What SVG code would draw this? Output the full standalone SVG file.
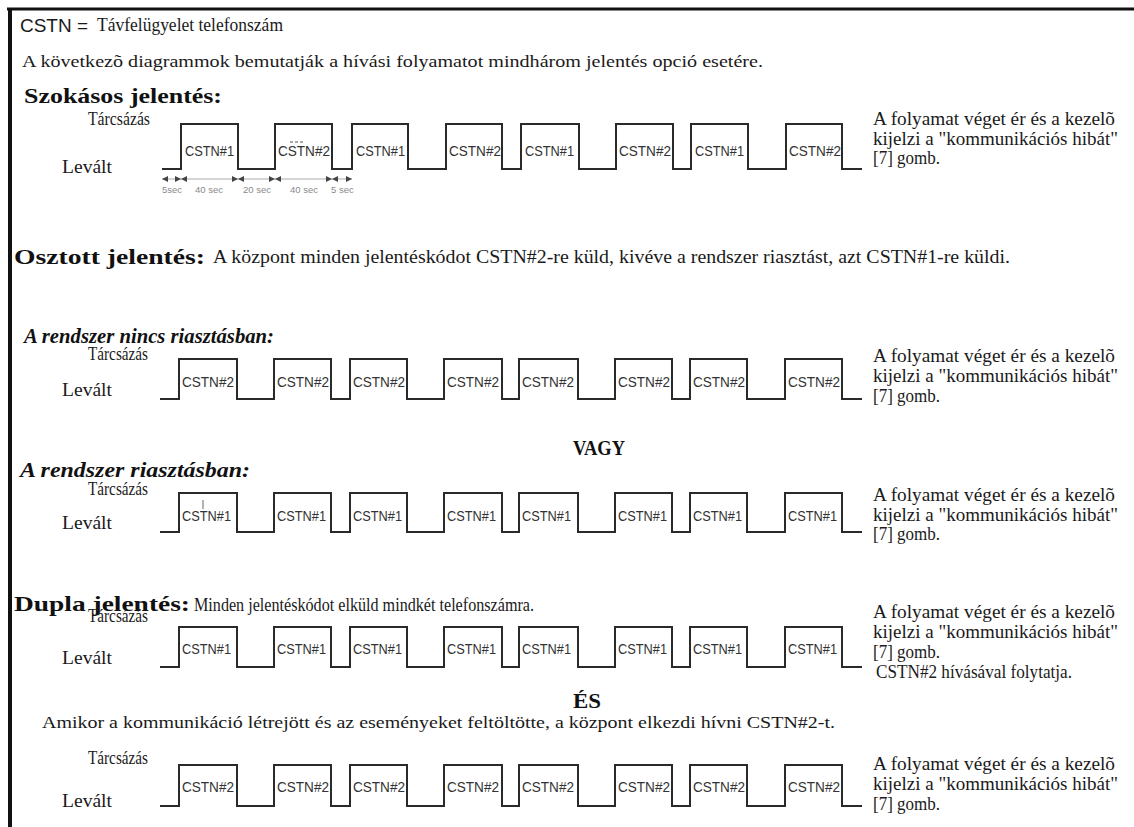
<svg xmlns="http://www.w3.org/2000/svg" width="1134" height="827" viewBox="0 0 1134 827">
<style>
.t{font-family:"Liberation Serif","Times New Roman",serif;fill:#1a1a1a}
.s{font-family:"Liberation Sans",Arial,sans-serif;fill:#1a1a1a}
.lbl{font-family:"Liberation Sans",Arial,sans-serif;font-size:14px;fill:#333}
.wave{fill:none;stroke:#2a2a2a;stroke-width:2}
.side{font-family:"Liberation Serif","Times New Roman",serif;font-size:19px;fill:#1a1a1a}
.h{font-family:"Liberation Serif","Times New Roman",serif;font-weight:bold;font-size:22px;fill:#111}
.hi{font-family:"Liberation Serif","Times New Roman",serif;font-weight:bold;font-style:italic;font-size:22px;fill:#111}
.tm{font-family:"Liberation Sans",Arial,sans-serif;font-size:9.5px;fill:#8a8a8a}
.lab{font-family:"Liberation Serif","Times New Roman",serif;font-size:18px;fill:#1a1a1a}
</style>
<rect width="1134" height="827" fill="#fff"/>
<g id="border">
<line x1="7" y1="9" x2="1134" y2="9" stroke="#111" stroke-width="3"/>
<line x1="10" y1="8" x2="10" y2="827" stroke="#111" stroke-width="4"/>
</g>
<g id="header">
<text class="s" x="20" y="32" font-size="18" textLength="68" lengthAdjust="spacingAndGlyphs">CSTN =</text>
<text class="t" x="97" y="31" font-size="18" textLength="186" lengthAdjust="spacingAndGlyphs">Távfelügyelet telefonszám</text>
<text class="t" x="22" y="67" font-size="17" textLength="741" lengthAdjust="spacingAndGlyphs">A következõ diagrammok bemutatják a hívási folyamatot mindhárom jelentés opció esetére.</text>
<text class="h" x="24" y="103" textLength="198" lengthAdjust="spacingAndGlyphs">Szokásos jelentés:</text>
<text class="h" x="14" y="264" font-size="24" textLength="191" lengthAdjust="spacingAndGlyphs">Osztott jelentés:</text>
<text class="t" x="213" y="263" font-size="18" textLength="797" lengthAdjust="spacingAndGlyphs">A központ minden jelentéskódot CSTN#2-re küld, kivéve a rendszer riasztást, azt CSTN#1-re küldi.</text>
<text class="hi" x="24" y="343" textLength="250" lengthAdjust="spacingAndGlyphs">A rendszer nincs riasztásban:</text>
<text class="h" x="573" y="455" font-size="20" textLength="52" lengthAdjust="spacingAndGlyphs">VAGY</text>
<text class="hi" x="20" y="477" textLength="230" lengthAdjust="spacingAndGlyphs">A rendszer riasztásban:</text>
<text class="h" x="14" y="611" textLength="176" lengthAdjust="spacingAndGlyphs">Dupla jelentés:</text>
<text class="t" x="194" y="611" font-size="18" textLength="340" lengthAdjust="spacingAndGlyphs">Minden jelentéskódot elküld mindkét telefonszámra.</text>
<text class="h" x="573" y="708" font-size="21" textLength="28" lengthAdjust="spacingAndGlyphs">ÉS</text>
<text class="t" x="42" y="728" font-size="17" textLength="793" lengthAdjust="spacingAndGlyphs">Amikor a kommunikáció létrejött és az eseményeket feltöltötte, a központ elkezdi hívni CSTN#2-t.</text>
</g>
<g id="row1">
<text class="lab" x="88" y="125" textLength="62" lengthAdjust="spacingAndGlyphs">Tárcsázás</text>
<text class="lab" x="62" y="173" textLength="50" lengthAdjust="spacingAndGlyphs">Levált</text>
<path class="wave" d="M162 169H181V124H238V169H275V124H332V169H352V124H408V169H446V124H502V169H521V124H579V169H616V124H673V169H691V124H748V169H786V124H842V169H862"/>
<g class="lbl">
<text x="185" y="156" textLength="49" lengthAdjust="spacingAndGlyphs">CSTN#1</text>
<text x="278" y="156" textLength="52" lengthAdjust="spacingAndGlyphs">CSTN#2</text>
<text x="356" y="156" textLength="49" lengthAdjust="spacingAndGlyphs">CSTN#1</text>
<text x="449" y="156" textLength="52" lengthAdjust="spacingAndGlyphs">CSTN#2</text>
<text x="525" y="156" textLength="49" lengthAdjust="spacingAndGlyphs">CSTN#1</text>
<text x="619" y="156" textLength="52" lengthAdjust="spacingAndGlyphs">CSTN#2</text>
<text x="695" y="156" textLength="49" lengthAdjust="spacingAndGlyphs">CSTN#1</text>
<text x="789" y="156" textLength="52" lengthAdjust="spacingAndGlyphs">CSTN#2</text>
</g>
<line x1="290" y1="142" x2="305" y2="142" stroke="#555" stroke-width="1" stroke-dasharray="3,2"/>
<g id="timing">
<line x1="162" y1="179" x2="352" y2="179" stroke="#aaa" stroke-width="1"/>
<g fill="#444">
<polygon points="162,179 168,176 168,182"/>
<polygon points="181,179 175,176 175,182"/><polygon points="181,179 187,176 187,182"/>
<polygon points="238,179 232,176 232,182"/><polygon points="238,179 244,176 244,182"/>
<polygon points="275,179 269,176 269,182"/><polygon points="275,179 281,176 281,182"/>
<polygon points="332,179 326,176 326,182"/><polygon points="332,179 338,176 338,182"/>
<polygon points="352,179 346,176 346,182"/>
</g>
<text class="tm" x="162" y="193">5sec</text>
<text class="tm" x="195" y="193">40 sec</text>
<text class="tm" x="243" y="193">20 sec</text>
<text class="tm" x="290" y="193">40 sec</text>
<text class="tm" x="331" y="193">5 sec</text>
</g>
<g class="side">
<text x="873" y="125" textLength="242" lengthAdjust="spacingAndGlyphs">A folyamat véget ér és a kezelõ</text>
<text x="873" y="145" textLength="245" lengthAdjust="spacingAndGlyphs">kijelzi a "kommunikációs hibát"</text>
<text x="873" y="164" textLength="67" lengthAdjust="spacingAndGlyphs">[7] gomb.</text>
</g>
</g>
<g id="row2">
<text class="lab" x="88" y="360" textLength="60" lengthAdjust="spacingAndGlyphs">Tárcsázás</text>
<text class="lab" x="62" y="396" textLength="50" lengthAdjust="spacingAndGlyphs">Levált</text>
<path class="wave" d="M160 399H179V359H237V399H274V359H331V399H350V359H407V399H444V359H502V399H519V359H578V399H615V359H672V399H690V359H747V399H785V359H842V399H862"/>
<g class="lbl">
<text x="182" y="387" textLength="52" lengthAdjust="spacingAndGlyphs">CSTN#2</text>
<text x="277" y="387" textLength="52" lengthAdjust="spacingAndGlyphs">CSTN#2</text>
<text x="353" y="387" textLength="52" lengthAdjust="spacingAndGlyphs">CSTN#2</text>
<text x="447" y="387" textLength="52" lengthAdjust="spacingAndGlyphs">CSTN#2</text>
<text x="522" y="387" textLength="52" lengthAdjust="spacingAndGlyphs">CSTN#2</text>
<text x="618" y="387" textLength="52" lengthAdjust="spacingAndGlyphs">CSTN#2</text>
<text x="693" y="387" textLength="52" lengthAdjust="spacingAndGlyphs">CSTN#2</text>
<text x="788" y="387" textLength="52" lengthAdjust="spacingAndGlyphs">CSTN#2</text>
</g>
<g class="side">
<text x="873" y="362" textLength="242" lengthAdjust="spacingAndGlyphs">A folyamat véget ér és a kezelõ</text>
<text x="873" y="382" textLength="245" lengthAdjust="spacingAndGlyphs">kijelzi a "kommunikációs hibát"</text>
<text x="873" y="402" textLength="67" lengthAdjust="spacingAndGlyphs">[7] gomb.</text>
</g>
</g>
<g id="row3">
<text class="lab" x="88" y="495" textLength="60" lengthAdjust="spacingAndGlyphs">Tárcsázás</text>
<text class="lab" x="62" y="529" textLength="50" lengthAdjust="spacingAndGlyphs">Levált</text>
<path class="wave" d="M160 532H179V493H237V532H274V493H331V532H350V493H407V532H444V493H502V532H519V493H578V532H615V493H672V532H690V493H747V532H785V493H842V532H862"/>
<line x1="203" y1="500" x2="203" y2="509" stroke="#666" stroke-width="1"/>
<g class="lbl">
<text x="182" y="521" textLength="49" lengthAdjust="spacingAndGlyphs">CSTN#1</text>
<text x="277" y="521" textLength="49" lengthAdjust="spacingAndGlyphs">CSTN#1</text>
<text x="353" y="521" textLength="49" lengthAdjust="spacingAndGlyphs">CSTN#1</text>
<text x="447" y="521" textLength="49" lengthAdjust="spacingAndGlyphs">CSTN#1</text>
<text x="522" y="521" textLength="49" lengthAdjust="spacingAndGlyphs">CSTN#1</text>
<text x="618" y="521" textLength="49" lengthAdjust="spacingAndGlyphs">CSTN#1</text>
<text x="693" y="521" textLength="49" lengthAdjust="spacingAndGlyphs">CSTN#1</text>
<text x="788" y="521" textLength="49" lengthAdjust="spacingAndGlyphs">CSTN#1</text>
</g>
<g class="side">
<text x="873" y="501" textLength="242" lengthAdjust="spacingAndGlyphs">A folyamat véget ér és a kezelõ</text>
<text x="873" y="521" textLength="245" lengthAdjust="spacingAndGlyphs">kijelzi a "kommunikációs hibát"</text>
<text x="873" y="540" textLength="67" lengthAdjust="spacingAndGlyphs">[7] gomb.</text>
</g>
</g>
<g id="row4">
<text class="lab" x="88" y="622" textLength="60" lengthAdjust="spacingAndGlyphs">Tárcsázás</text>
<text class="lab" x="62" y="664" textLength="50" lengthAdjust="spacingAndGlyphs">Levált</text>
<path class="wave" d="M160 667H179V627H237V667H274V627H331V667H350V627H407V667H444V627H502V667H519V627H578V667H615V627H672V667H690V627H747V667H785V627H842V667H862"/>
<g class="lbl">
<text x="182" y="654" textLength="49" lengthAdjust="spacingAndGlyphs">CSTN#1</text>
<text x="277" y="654" textLength="49" lengthAdjust="spacingAndGlyphs">CSTN#1</text>
<text x="353" y="654" textLength="49" lengthAdjust="spacingAndGlyphs">CSTN#1</text>
<text x="447" y="654" textLength="49" lengthAdjust="spacingAndGlyphs">CSTN#1</text>
<text x="522" y="654" textLength="49" lengthAdjust="spacingAndGlyphs">CSTN#1</text>
<text x="618" y="654" textLength="49" lengthAdjust="spacingAndGlyphs">CSTN#1</text>
<text x="693" y="654" textLength="49" lengthAdjust="spacingAndGlyphs">CSTN#1</text>
<text x="788" y="654" textLength="49" lengthAdjust="spacingAndGlyphs">CSTN#1</text>
</g>
<g class="side">
<text x="873" y="618" textLength="242" lengthAdjust="spacingAndGlyphs">A folyamat véget ér és a kezelõ</text>
<text x="873" y="638" textLength="245" lengthAdjust="spacingAndGlyphs">kijelzi a "kommunikációs hibát"</text>
<text x="873" y="658" textLength="67" lengthAdjust="spacingAndGlyphs">[7] gomb.</text>
<text x="876" y="678" textLength="196" lengthAdjust="spacingAndGlyphs">CSTN#2 hívásával folytatja.</text>
</g>
</g>
<g id="row5">
<text class="lab" x="88" y="764" textLength="60" lengthAdjust="spacingAndGlyphs">Tárcsázás</text>
<text class="lab" x="62" y="807" textLength="50" lengthAdjust="spacingAndGlyphs">Levált</text>
<path class="wave" d="M160 806H179V765H237V806H274V765H331V806H350V765H407V806H444V765H502V806H519V765H578V806H615V765H672V806H690V765H747V806H785V765H842V806H862"/>
<g class="lbl">
<text x="182" y="792" textLength="52" lengthAdjust="spacingAndGlyphs">CSTN#2</text>
<text x="277" y="792" textLength="52" lengthAdjust="spacingAndGlyphs">CSTN#2</text>
<text x="353" y="792" textLength="52" lengthAdjust="spacingAndGlyphs">CSTN#2</text>
<text x="447" y="792" textLength="52" lengthAdjust="spacingAndGlyphs">CSTN#2</text>
<text x="522" y="792" textLength="52" lengthAdjust="spacingAndGlyphs">CSTN#2</text>
<text x="618" y="792" textLength="52" lengthAdjust="spacingAndGlyphs">CSTN#2</text>
<text x="693" y="792" textLength="52" lengthAdjust="spacingAndGlyphs">CSTN#2</text>
<text x="788" y="792" textLength="52" lengthAdjust="spacingAndGlyphs">CSTN#2</text>
</g>
<g class="side">
<text x="873" y="770" textLength="242" lengthAdjust="spacingAndGlyphs">A folyamat véget ér és a kezelõ</text>
<text x="873" y="790" textLength="245" lengthAdjust="spacingAndGlyphs">kijelzi a "kommunikációs hibát"</text>
<text x="873" y="810" textLength="67" lengthAdjust="spacingAndGlyphs">[7] gomb.</text>
</g>
</g>
</svg>
